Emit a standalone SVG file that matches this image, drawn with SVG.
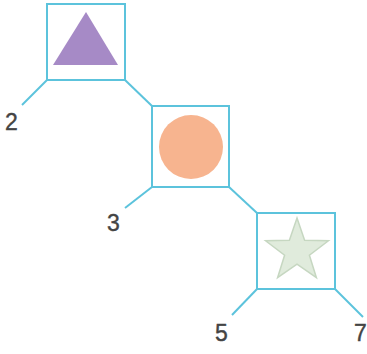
<svg xmlns="http://www.w3.org/2000/svg" width="367" height="354" viewBox="0 0 367 354">
<style>
.box{fill:none;stroke:#5cc3dc;stroke-width:2}
.ln{stroke:#5cc3dc;stroke-width:2;fill:none}
.lbl{font-family:"Liberation Sans",Arial,sans-serif;font-size:23px;fill:#444;stroke:#444;stroke-width:0.4}
</style>
<rect width="367" height="354" fill="#fff"/>
<g id="connectors">
<line class="ln" x1="47" y1="80" x2="22" y2="105"/>
<line class="ln" x1="125" y1="80" x2="152" y2="106"/>
<line class="ln" x1="152" y1="187" x2="125" y2="208"/>
<line class="ln" x1="229" y1="187" x2="257" y2="213"/>
<line class="ln" x1="257" y1="289" x2="232" y2="315"/>
<line class="ln" x1="335" y1="289" x2="363" y2="317"/>
</g>
<g id="node-triangle">
<rect class="box" x="47" y="4" width="78" height="76"/>
<polygon points="86,12 118,65 53,65" fill="#a68ac6"/>
</g>
<g id="node-circle">
<rect class="box" x="152" y="106" width="77" height="81"/>
<circle cx="191" cy="147" r="32" fill="#f7b48f"/>
</g>
<g id="node-star">
<rect class="box" x="257" y="213" width="78" height="76"/>
<polygon points="297,218 304.6,240.3 328.4,240.8 309.4,255.2 316.4,277.7 297,264.2 277.6,277.7 284.6,255.2 265.6,240.8 289.4,240.3" fill="#e0ebdc" stroke="#c6d7c1" stroke-width="1.5"/>
</g>
<g id="labels">
<text class="lbl" x="5" y="130">2</text>
<text class="lbl" x="107" y="231">3</text>
<text class="lbl" x="215" y="341">5</text>
<text class="lbl" x="354" y="341">7</text>
</g>
</svg>
